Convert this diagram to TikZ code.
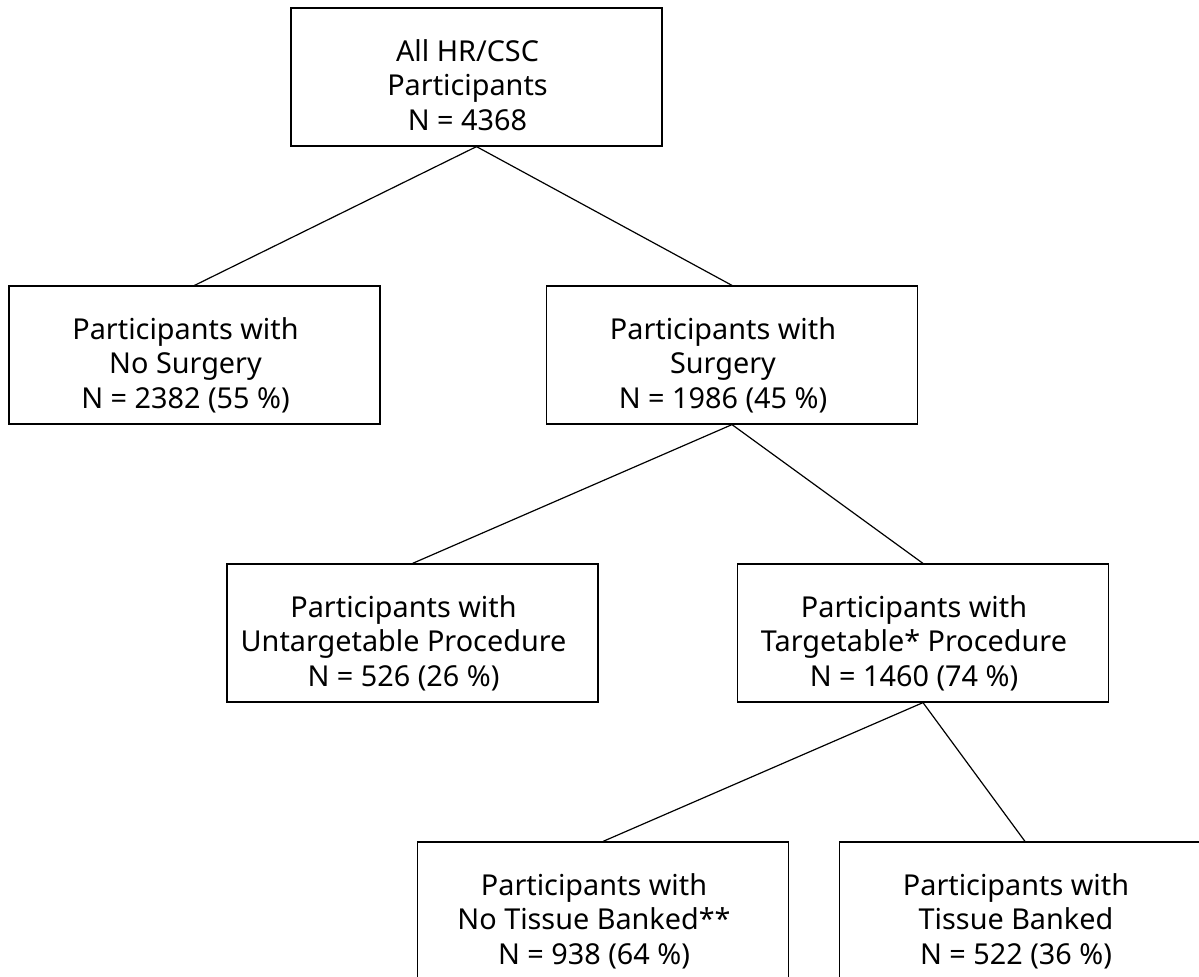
\documentclass[tikz,border=0pt]{standalone}
\usepackage{fontspec}
\setmainfont{Noto Sans}
\usetikzlibrary{positioning}
\tikzset{
  grp/.style={draw=black, line width=0.6pt, rectangle, minimum width=185.5pt, minimum height=69pt, inner sep=0pt, align=center, font=\fontsize{14.4}{17.25}\selectfont, text height=53pt, text depth=0pt, execute at end node={\hspace*{9pt}}},
  link/.style={black, line width=0.6pt}
}
\begin{document}
\begin{tikzpicture}[x=0.5pt, y=-0.5pt]
\useasboundingbox (0,0) rectangle (1199,976);
\node [grp] (all) at (476.5, 77) {All HR/CSC\\Participants\\N = 4368};
\node [grp] (nosurg) at (194.5, 355) {Participants with\\No Surgery\\N = 2382 (55 \%)};
\node [grp] (surg) at (732, 355) {Participants with\\Surgery\\N = 1986 (45 \%)};
\node [grp] (untarg) at (412.5, 633) {Participants with\\Untargetable Procedure\\N = 526 (26 \%)};
\node [grp] (targ) at (923, 633) {Participants with\\Targetable* Procedure\\N = 1460 (74 \%)};
\node [grp] (notissue) at (603, 911) {Participants with\\No Tissue Banked**\\N = 938 (64 \%)};
\node [grp] (tissue) at (1025, 911) {Participants with\\Tissue Banked\\N = 522 (36 \%)};
% tree links
\draw [link] (all.south) to (nosurg.north);
\draw [link] (all.south) to (surg.north);
\draw [link] (surg.south) to (untarg.north);
\draw [link] (surg.south) to (targ.north);
\draw [link] (targ.south) to (notissue.north);
\draw [link] (targ.south) to (tissue.north);
\end{tikzpicture}
\end{document}
